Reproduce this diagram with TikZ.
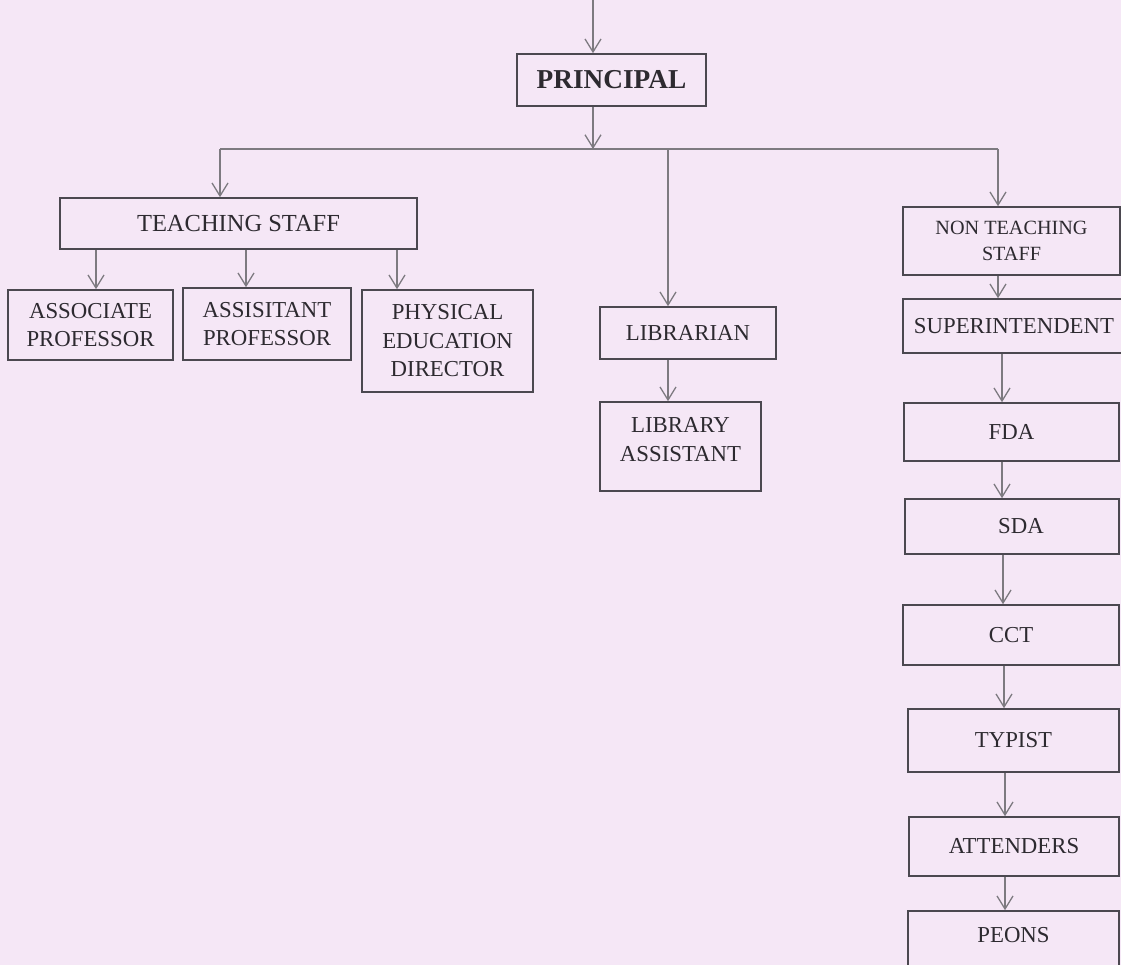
\documentclass[tikz,border=0pt]{standalone}
\usepackage{fontspec}
\setmainfont{Liberation Serif}
\usetikzlibrary{arrows.meta}
\definecolor{bg}{RGB}{245,231,246}
\definecolor{boxline}{RGB}{75,72,80}
\definecolor{conn}{RGB}{125,122,128}
\definecolor{txt}{RGB}{45,42,48}
\tikzset{
  box/.style={draw=boxline, line width=1.6pt, fill=bg, text=txt, align=center, inner sep=0pt,
    font=\fontsize{22.8}{28.5}\selectfont},
  widebox/.style={box, font=\fontsize{24.5}{29}\selectfont},
  smallbox/.style={box, font=\fontsize{20.2}{26}\selectfont},
  bigbox/.style={box, font=\fontsize{27.3}{30}\selectfont\bfseries},
  arr/.style={draw=conn, line width=1.4pt, -{Straight Barb[length=13pt,width=16pt,line width=1.3pt]}},
  ln/.style={draw=conn, line width=1.4pt}
}
\begin{document}
\begin{tikzpicture}[x=1pt,y=-1pt]
\fill[bg] (0,0) rectangle (1121,965);
\useasboundingbox (0,0) rectangle (1121,965);
\clip (0,0) rectangle (1121,965);

% nodes
\node[bigbox, minimum width=189pt, minimum height=52pt] (principal) at (611.5,80) {PRINCIPAL};
\node[widebox, minimum width=357pt, minimum height=51pt] (teach) at (238.5,223.5) {TEACHING STAFF};
\node[box, minimum width=165pt, minimum height=70pt] (assoc) at (90.5,325) {ASSOCIATE\\PROFESSOR};
\node[box, minimum width=168pt, minimum height=72pt] (assist) at (267,324) {ASSISITANT\\PROFESSOR};
\node[box, minimum width=171pt, minimum height=102pt] (phys) at (447.5,341) {PHYSICAL\\EDUCATION\\DIRECTOR};
\node[box, minimum width=176pt, minimum height=52pt] (lib) at (688,333) {LIBRARIAN};
\node[box, minimum width=161pt, minimum height=89pt, text depth=14pt] (libasst) at (680.5,446.5) {LIBRARY\\ASSISTANT};
\node[smallbox, minimum width=217pt, minimum height=68pt] (nonteach) at (1011.5,241) {NON TEACHING\\STAFF};
\node[box, minimum width=222pt, minimum height=54pt] (super) at (1014,326) {SUPERINTENDENT};
\node[box, minimum width=215pt, minimum height=58pt] (fda) at (1011.5,432) {FDA};
\node[box, minimum width=214pt, minimum height=55pt] (sda) at (1012,526.5) {\hspace*{18pt}SDA};
\node[box, minimum width=216pt, minimum height=60pt] (cct) at (1011,635) {CCT};
\node[box, minimum width=211pt, minimum height=63pt] (typist) at (1013.5,740.5) {TYPIST};
\node[box, minimum width=210pt, minimum height=59pt] (attend) at (1014,846.5) {ATTENDERS};
\node[box, minimum width=211pt, minimum height=64pt, text depth=16pt] (peons) at (1013.5,943) {PEONS};

% helper coordinates
\coordinate (top) at (593,0);
\coordinate (busL) at (220,149);
\coordinate (busM) at (668,149);
\coordinate (busR) at (998,149);
\coordinate (busP) at (593,149);
\coordinate (xa) at (96,0);
\coordinate (xb) at (246,0);
\coordinate (xc) at (397,0);
\coordinate (xl) at (668,0);
\coordinate (xn) at (998,0);
\coordinate (x1) at (1002,0);
\coordinate (x2) at (1003,0);
\coordinate (x3) at (1004,0);
\coordinate (x4) at (1005,0);

% connectors
\draw[arr] (top) -- (principal.north -| top);
\draw[arr] (principal.south -| top) -- (busP);
\draw[ln] (busL) -- (busR);
\draw[arr] (busL) -- (teach.north -| busL);
\draw[arr] (busM) -- (lib.north -| busM);
\draw[arr] (busR) -- (nonteach.north -| busR);

\draw[arr] (teach.south -| xa) -- (assoc.north -| xa);
\draw[arr] (teach.south -| xb) -- (assist.north -| xb);
\draw[arr] (teach.south -| xc) -- (phys.north -| xc);

\draw[arr] (lib.south -| xl) -- (libasst.north -| xl);

\draw[arr] (nonteach.south -| xn) -- (super.north -| xn);
\draw[arr] (super.south -| x1) -- (fda.north -| x1);
\draw[arr] (fda.south -| x1) -- (sda.north -| x1);
\draw[arr] (sda.south -| x2) -- (cct.north -| x2);
\draw[arr] (cct.south -| x3) -- (typist.north -| x3);
\draw[arr] (typist.south -| x4) -- (attend.north -| x4);
\draw[arr] (attend.south -| x4) -- (peons.north -| x4);
\end{tikzpicture}
\end{document}
